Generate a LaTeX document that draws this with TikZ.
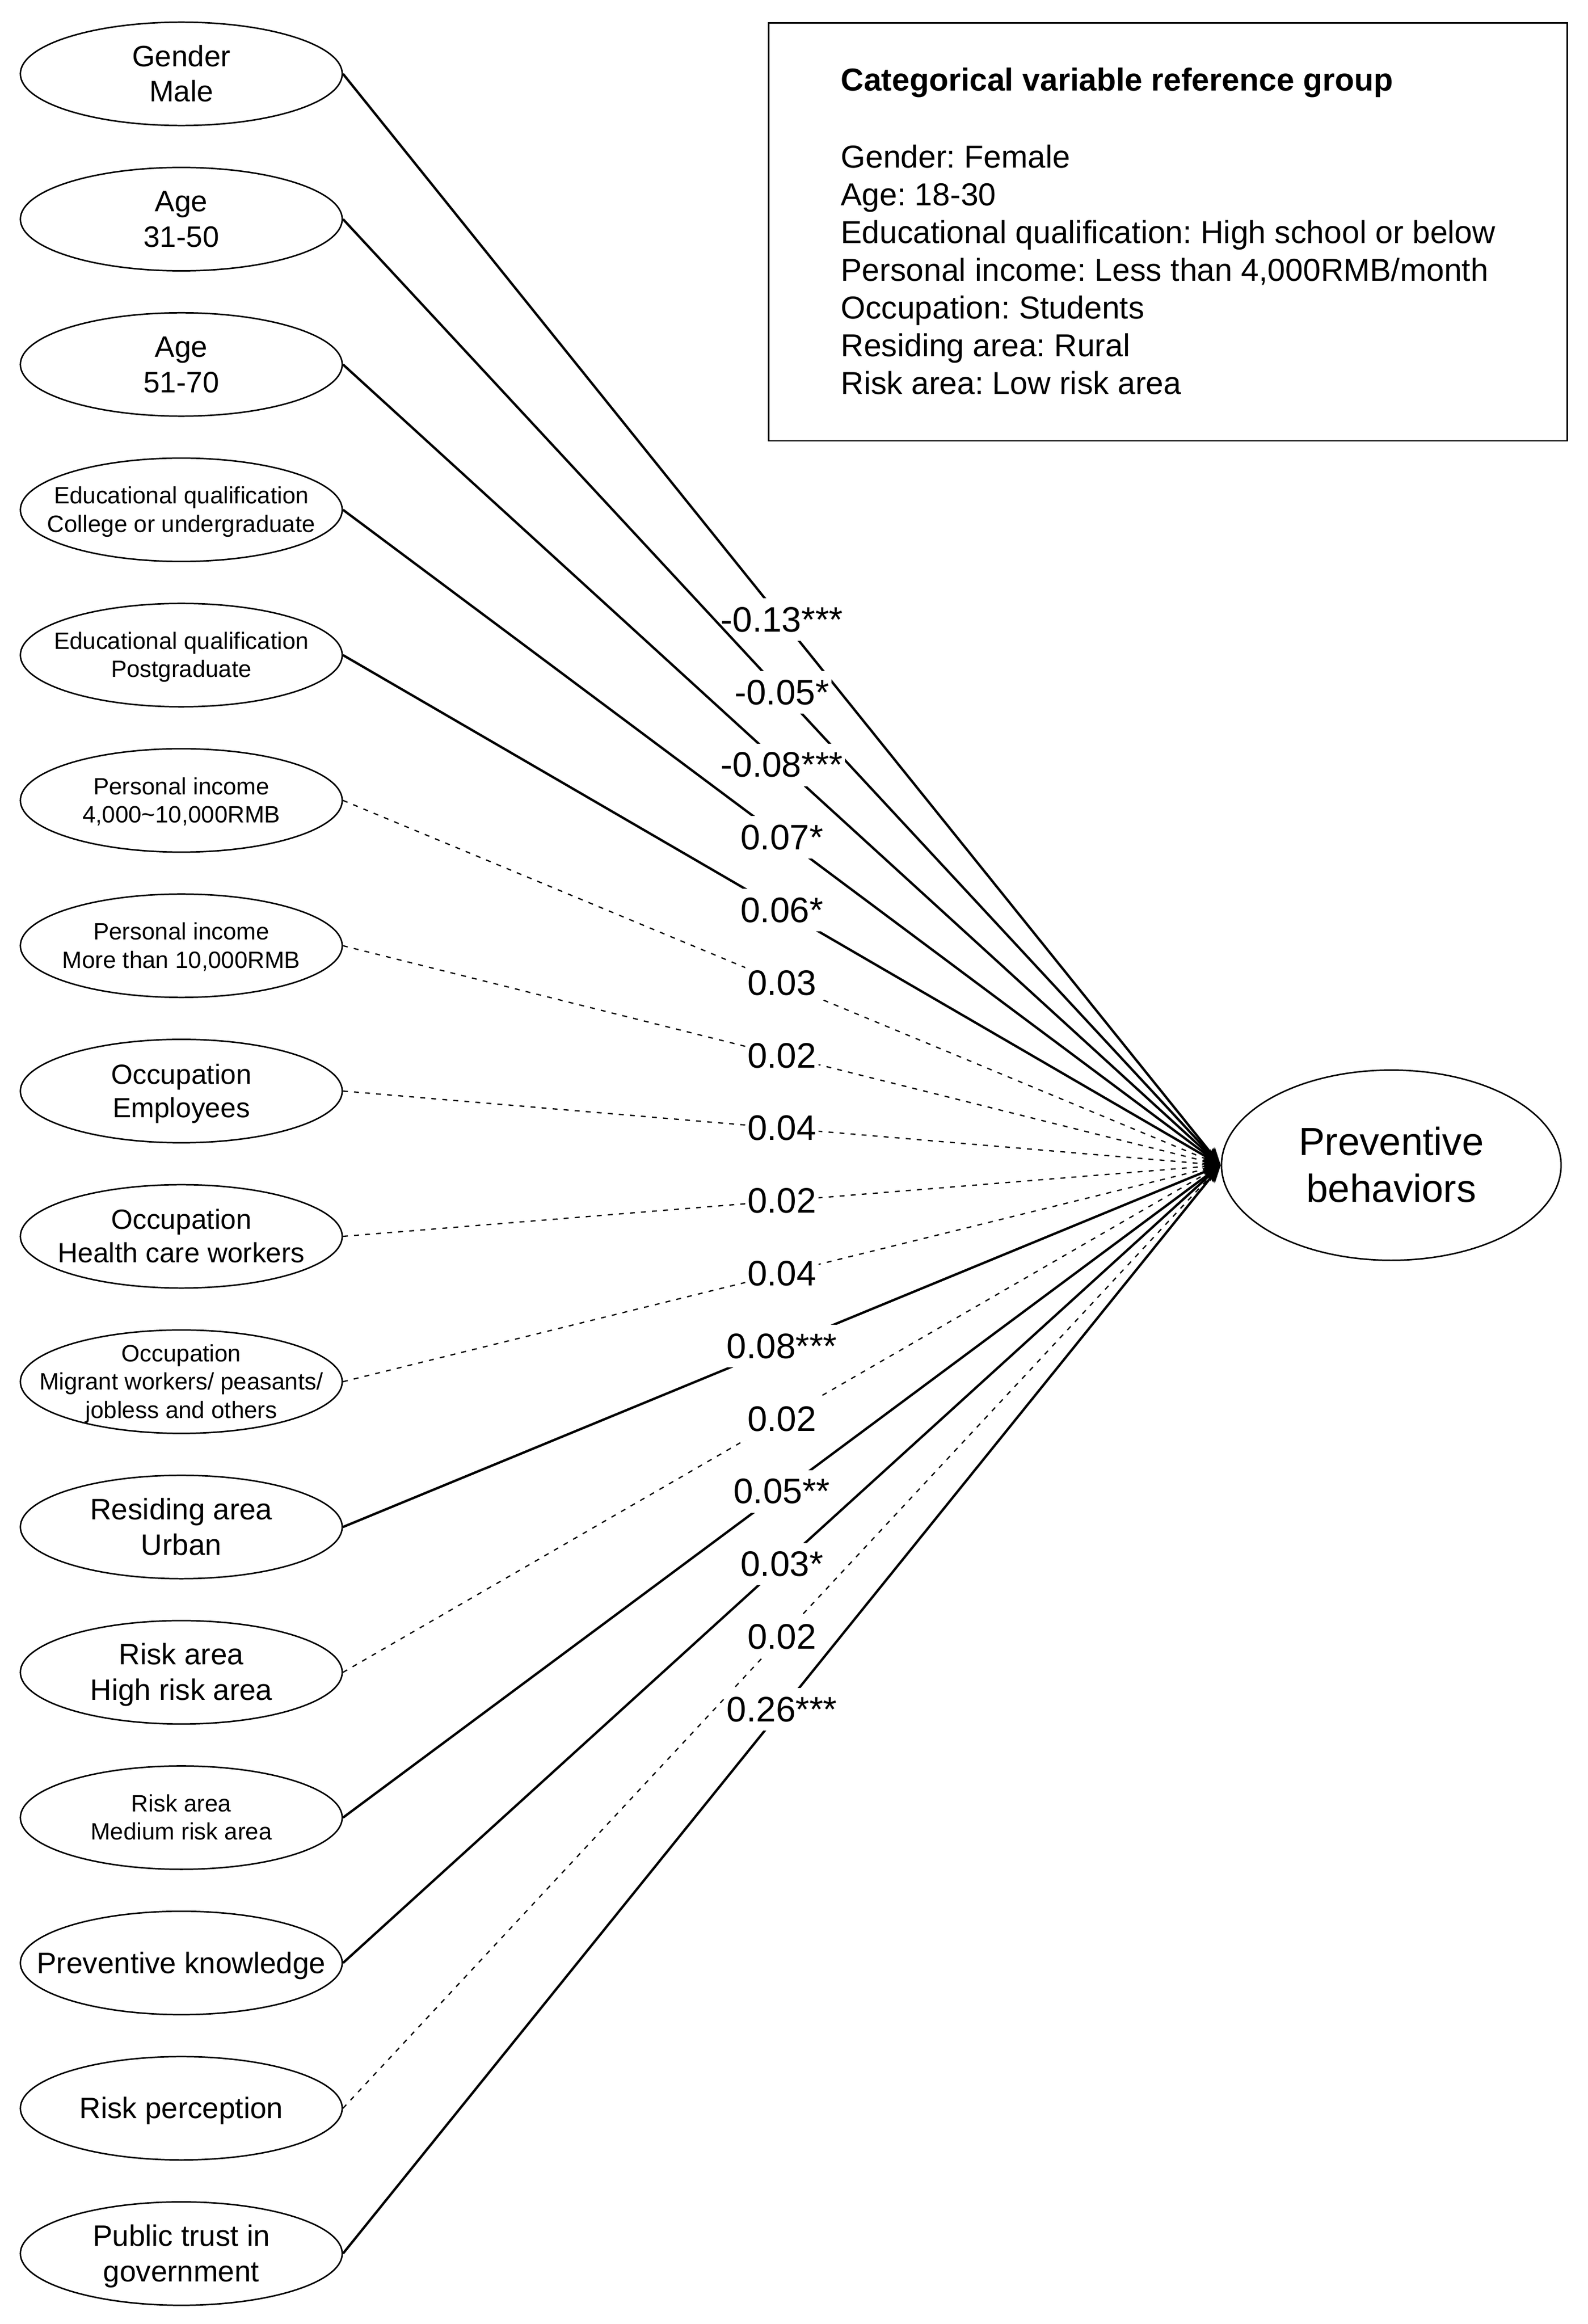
\documentclass[tikz,border=0pt]{standalone}
\usepackage{fontspec}
\setmainfont{Liberation Sans}
\frenchspacing
\usetikzlibrary{arrows.meta,shapes.geometric,positioning}
\tikzset{
	var/.style={draw, ellipse, line width=1pt, minimum width=218pt, minimum height=70pt, inner sep=0pt},
	every label/.style={align=center, inner sep=0pt},
	txt20/.style={font=\fontsize{20}{24}\selectfont},
	txt19/.style={font=\fontsize{18.8}{22.56}\selectfont},
	txt16/.style={font=\fontsize{16}{19.2}\selectfont},
	tip/.style={-{Stealth[length=12pt,width=9pt,inset=3pt]}},
	sig/.style={tip, line width=1.6pt},
	ns/.style={tip, line width=0.85pt, dash pattern=on 3.3pt off 4.2pt},
	coef/.style={fill=white, inner xsep=1.5pt, inner ysep=0pt, text height=22.72pt, text depth=6.08pt,
		font=\fontsize{24}{28.8}\selectfont},
	reftxt/.style={anchor=base west, inner sep=0pt, font=\fontsize{21.5}{25.8}\selectfont}
}
% strut as tall as one draw.io line
\newcommand{\dstrut}{\rule[-0.2535em]{0pt}{1.2em}}
\newcommand{\vt}[1]{\dstrut#1\dstrut}

\begin{document}
\begin{tikzpicture}[x=1pt, y=-1pt]
	\useasboundingbox (0,0) rectangle (1075.2,1573.7);
	% predictors
	\node[var, label={[txt20]center:\vt{Gender\\Male}}] (gender) at (122.8,50) {};
	\node[var, label={[txt20]center:\vt{Age\\31-50}}] (agemid) at (122.8,148.4) {};
	\node[var, label={[txt20]center:\vt{Age\\51-70}}] (ageold) at (122.8,246.8) {};
	\node[var, label={[txt16]center:\vt{Educational qualification\\College or undergraduate}}] (educol) at (122.8,345.2) {};
	\node[var, label={[txt16]center:\vt{Educational qualification\\Postgraduate}}] (edupg) at (122.8,443.6) {};
	\node[var, label={[txt16]center:\vt{Personal income\\4,000\textasciitilde 10,000RMB}}] (incmid) at (122.8,542) {};
	\node[var, label={[txt16]center:\vt{Personal income\\More than 10,000RMB}}] (inchigh) at (122.8,640.4) {};
	\node[var, label={[txt19]center:\vt{Occupation\\Employees}}] (occemp) at (122.8,738.8) {};
	\node[var, label={[txt19]center:\vt{Occupation\\Health care workers}}] (occhcw) at (122.8,837.2) {};
	\node[var, label={[txt16]center:\vt{Occupation\\Migrant workers/ peasants/\\jobless and others}}] (occmig) at (122.8,935.6) {};
	\node[var, label={[txt20]center:\vt{Residing area\\Urban}}] (resurb) at (122.8,1034) {};
	\node[var, label={[txt20]center:\vt{Risk area\\High risk area}}] (riskhigh) at (122.8,1132.4) {};
	\node[var, label={[txt16]center:\vt{Risk area\\Medium risk area}}] (riskmed) at (122.8,1230.8) {};
	\node[var, label={[txt20]center:\vt{Preventive knowledge}}] (know) at (122.8,1329.2) {};
	\node[var, label={[txt20]center:\vt{Risk perception}}] (perc) at (122.8,1427.6) {};
	\node[var, label={[txt20]center:\vt{Public trust in\\government}}] (trust) at (122.8,1526) {};
	% outcome
	\node[var, minimum width=230pt, minimum height=128.8pt,
		label={[font=\fontsize{26.5}{31.8}\selectfont]center:\vt{Preventive\\behaviors}}] (pb) at (942.3,789) {};
	% reference group box
	\node[draw, line width=1pt, anchor=north west, inner sep=0pt, minimum width=541pt, minimum height=283pt] (refgroup) at (520,15) {};
	\node[reftxt, font=\fontsize{21.5}{25.8}\selectfont\bfseries] (reftitle) at (569.3,61.5) {Categorical variable reference group};
	\foreach \txt [count=\k from 0] in {Gender: Female, Age: 18-30, Educational qualification: High school or below,
		{Personal income: Less than 4,000RMB/month}, Occupation: Students, Residing area: Rural, Risk area: Low risk area}
		\node[reftxt] (ref\k) at (569.3,{113.7+25.55*\k}) {\txt};
	% paths
	\draw[sig] (gender.east) -- node[coef] {-0.13***} (pb.west);
	\draw[sig] (agemid.east) -- node[coef] {-0.05*} (pb.west);
	\draw[sig] (ageold.east) -- node[coef] {-0.08***} (pb.west);
	\draw[sig] (educol.east) -- node[coef] {0.07*} (pb.west);
	\draw[sig] (edupg.east) -- node[coef] {0.06*} (pb.west);
	\draw[ns] (incmid.east) -- node[coef] {0.03} (pb.west);
	\draw[ns] (inchigh.east) -- node[coef] {0.02} (pb.west);
	\draw[ns] (occemp.east) -- node[coef] {0.04} (pb.west);
	\draw[ns] (occhcw.east) -- node[coef] {0.02} (pb.west);
	\draw[ns] (occmig.east) -- node[coef] {0.04} (pb.west);
	\draw[sig] (resurb.east) -- node[coef] {0.08***} (pb.west);
	\draw[ns] (riskhigh.east) -- node[coef] {0.02} (pb.west);
	\draw[sig] (riskmed.east) -- node[coef] {0.05**} (pb.west);
	\draw[sig] (know.east) -- node[coef] {0.03*} (pb.west);
	\draw[ns] (perc.east) -- node[coef] {0.02} (pb.west);
	\draw[sig] (trust.east) -- node[coef] {0.26***} (pb.west);
\end{tikzpicture}
\end{document}
